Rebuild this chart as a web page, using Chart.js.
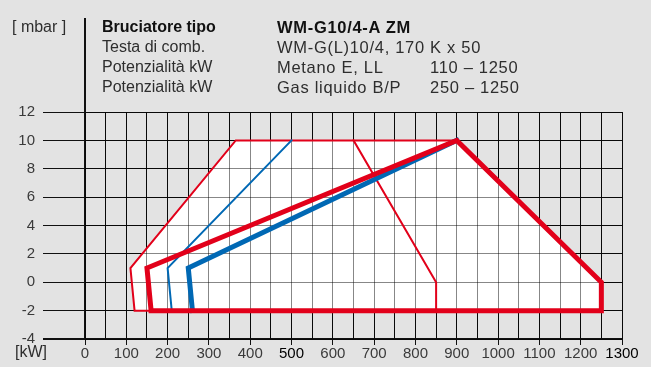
<!DOCTYPE html>
<html>
<head>
<meta charset="utf-8">
<script src="https://cdn.jsdelivr.net/npm/chart.js@4/dist/chart.umd.min.js"></script>
<style>
  html, body { margin: 0; padding: 0; background: #e3e3e3; }
  #wrap { position: relative; width: 651px; height: 367px; overflow: hidden;
          font-family: "Liberation Sans", Arial, sans-serif; color: #2e2e2e; }
  #wrap canvas { position: absolute; left: 0; top: 0; }
  .t { position: absolute; white-space: nowrap; font-size: 16px; line-height: 20px; }
  .b { font-weight: bold; color: #111; }
  .c2 { letter-spacing: 0.7px; font-size: 16.5px; }
  #rule { position: absolute; left: 84px; top: 18px; width: 2px; height: 95px; background: #111; }
</style>
</head>
<body>
<div id="wrap">
  <canvas id="base" width="651" height="367"></canvas>
  <canvas id="lines" width="651" height="367"></canvas>

  <div class="t" style="left:12px;top:17px;">[ mbar ]</div>
  <div id="rule"></div>

  <div class="t b" style="left:102px;top:17px;">Bruciatore tipo</div>
  <div class="t" style="left:102px;top:37px;">Testa di comb.</div>
  <div class="t" style="left:102px;top:57px;">Potenzialità kW</div>
  <div class="t" style="left:102px;top:77px;">Potenzialità kW</div>

  <div class="t b c2" style="left:277px;top:17px;">WM-G10/4-A ZM</div>
  <div class="t c2" style="left:277px;top:37px;">WM-G(L)10/4, 170 K x 50</div>
  <div class="t c2" style="left:277px;top:57px;">Metano E, LL</div>
  <div class="t c2" style="left:277px;top:77px;">Gas liquido B/P</div>
  <div class="t c2" style="left:430px;top:57px;">110 – 1250</div>
  <div class="t c2" style="left:430px;top:77px;">250 – 1250</div>

  <div class="t" style="left:15px;top:342px;">[kW]</div>
</div>

<script>
// Axis ranges (kW horizontally, mbar vertically)
const kwMin = 0, kwMax = 1300, kwStep = 50, kwLabelStep = 100;
const mbarMin = -4, mbarMax = 12, mbarStep = 2;
const boldKwLabels = [500, 1300];

// Working field of the burner (white area)
const fieldKW   = [120, 110, 365, 900, 1250, 1250, 120];
const fieldMbar = [-2,   1,  10,  10,    0,   -2,  -2];

// Thin red: outer limit, natural gas
const redThinKW   = [160, 120, 110, 365, 900];
const redThinMbar = [-2,   -2,   1,  10,  10];

// Thin red: right limit, natural gas
const redRightKW   = [650, 850, 850];
const redRightMbar = [10,    0,  -2];

// Thin blue line
const blueThinKW   = [210, 200, 500];
const blueThinMbar = [-2,    1,  10];

// Thick blue line
const blueThickKW   = [260, 250, 900];
const blueThickMbar = [-2,    1,  10];

// Thick red: operating range
const redThickKW   = [160, 150, 900, 1250, 1250, 160];
const redThickMbar = [-2,    1,  10,    0,   -2,  -2];

const RED = '#e2001a';
const BLUE = '#0068b4';
const GRID = '#111111';
const FONT = '"Liberation Sans", Arial, sans-serif';

function pts(xs, ys) { return xs.map((x, i) => ({ x: x, y: ys[i] })); }

// Shared axis layout; "visible" decides whether this layer paints the axes
function axes(visible) {
  const col = c => visible ? c : 'transparent';
  return {
    x: {
      type: 'linear', position: 'bottom', min: kwMin, max: kwMax,
      afterFit: s => { s.height = 28; },
      border: { display: true, color: col(GRID), width: 2 },
      grid: {
        color: col(GRID), lineWidth: 1, tickLength: 6,
        tickColor: c => (visible && c.tick && c.tick.value % kwLabelStep === 0) ? GRID : 'transparent'
      },
      ticks: {
        stepSize: kwStep, autoSkip: false, maxRotation: 0, minRotation: 0, padding: 0,
        font: { family: FONT, size: 15 },
        color: c => !visible ? 'transparent' : (c.tick && boldKwLabels.includes(c.tick.value) ? '#000' : '#3a3a3a'),
        callback: v => (v % kwLabelStep === 0 ? String(v) : '')
      }
    },
    y: {
      type: 'linear', position: 'left', min: mbarMin, max: mbarMax,
      afterFit: s => { s.width = 85; },
      border: { display: true, color: col(GRID), width: 2 },
      grid: {
        color: col(GRID), tickLength: 42, tickColor: col(GRID),
        lineWidth: c => (c.tick && c.tick.value === mbarMin ? 2 : 1)
      },
      ticks: {
        stepSize: mbarStep, padding: 8,
        font: { family: FONT, size: 15 },
        color: col('#3a3a3a')
      }
    }
  };
}

const common = {
  responsive: false,
  animation: false,
  devicePixelRatio: 1,
  events: [],
  layout: { padding: { top: 112, right: 29, left: 0, bottom: 0 } },
  plugins: { legend: { display: false }, tooltip: { enabled: false } }
};

// Base layer: black grid, white working field, softened grid on top of it
const SOFT = 'rgba(0,0,0,0.47)';
const baseScales = axes(true);
baseScales.x2 = {
  type: 'linear', position: 'bottom', min: kwMin, max: kwMax,
  afterFit: s => { s.height = 0; },
  border: { display: false },
  grid: { color: SOFT, drawTicks: false, z: 1 },
  ticks: { display: false, stepSize: kwStep }
};
baseScales.y2 = {
  type: 'linear', position: 'left', min: mbarMin, max: mbarMax,
  afterFit: s => { s.width = 0; },
  border: { display: false },
  grid: { color: SOFT, drawTicks: false, z: 1 },
  ticks: { display: false, stepSize: mbarStep }
};

new Chart(document.getElementById('base'), {
  type: 'scatter',
  data: {
    datasets: [{
      data: pts(fieldKW, fieldMbar),
      showLine: true, fill: 'shape',
      backgroundColor: '#ffffff', borderColor: 'rgba(0,0,0,0)', borderWidth: 0,
      pointRadius: 0
    }]
  },
  options: Object.assign({}, common, { scales: baseScales })
});

// Line layer: the boundary curves drawn above the grid
function line(xs, ys, color, width) {
  return {
    data: pts(xs, ys), showLine: true, fill: false,
    borderColor: color, borderWidth: width, pointRadius: 0,
    borderJoinStyle: 'miter', borderCapStyle: 'square', tension: 0
  };
}

new Chart(document.getElementById('lines'), {
  type: 'scatter',
  data: {
    datasets: [
      line(redThinKW, redThinMbar, RED, 2),
      line(redRightKW, redRightMbar, RED, 2),
      line(blueThinKW, blueThinMbar, BLUE, 2),
      line(blueThickKW, blueThickMbar, BLUE, 5),
      line(redThickKW, redThickMbar, RED, 5)
    ].reverse()
  },
  options: Object.assign({}, common, { scales: axes(false) })
});
</script>
</body>
</html>
